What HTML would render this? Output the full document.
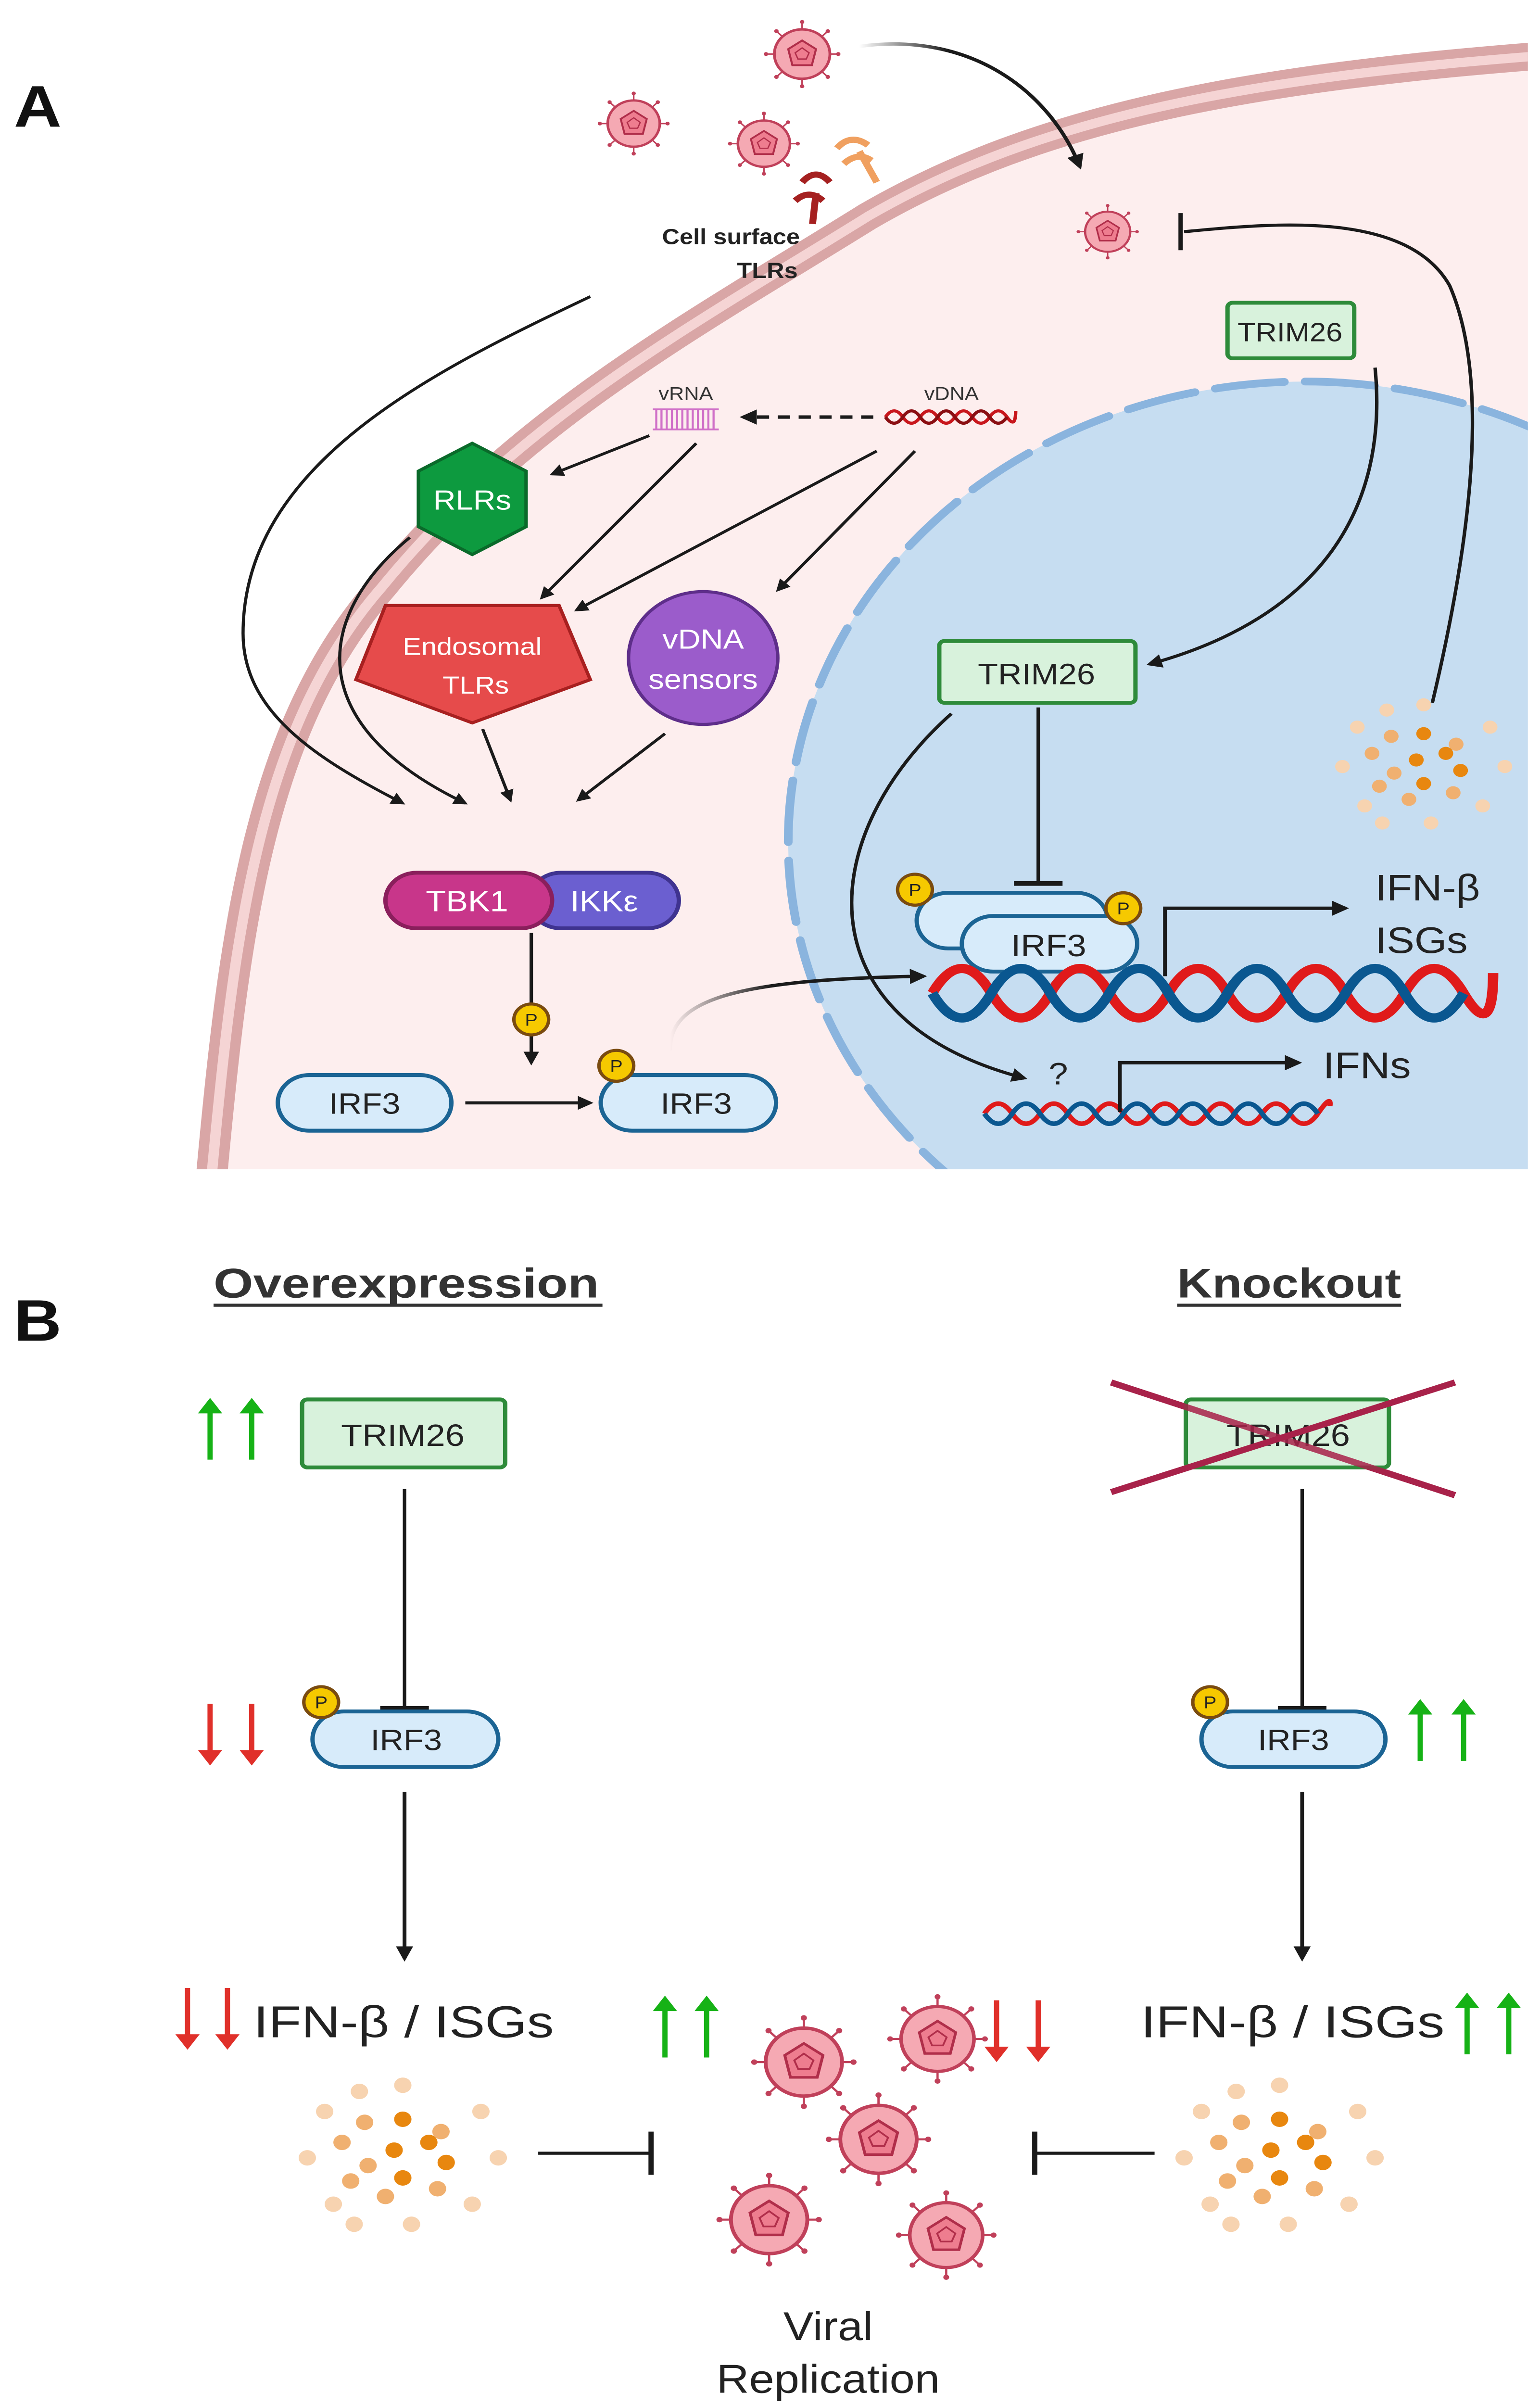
<!DOCTYPE html>
<html><head><meta charset="utf-8"><style>
html,body{margin:0;padding:0;background:#fff;width:100vw;height:100vh;overflow:hidden}
svg{display:block;position:absolute;left:0;top:0;width:100vw;height:100vh}
text{font-family:"Liberation Sans",sans-serif}
</style></head><body>
<svg viewBox="0 0 887 1557" preserveAspectRatio="none" xmlns="http://www.w3.org/2000/svg">
<defs>
<marker id="ah" viewBox="0 0 10 10" refX="8" refY="5" markerWidth="4.5" markerHeight="4.5" orient="auto"><path d="M0,0 L10,5 L0,10 z" fill="#1a1a1a"/></marker>
<linearGradient id="g1" x1="0" y1="0" x2="1" y2="0"><stop offset="0" stop-color="#1a1a1a" stop-opacity="0"/><stop offset="0.4" stop-color="#1a1a1a"/></linearGradient>
<g id="vir">
 <g stroke="#c0405a" stroke-width="1.2">
  <line x1="0" y1="-20" x2="0" y2="-26"/><line x1="0" y1="20" x2="0" y2="26"/><line x1="-20" y1="0" x2="-26" y2="0"/><line x1="20" y1="0" x2="26" y2="0"/>
  <line x1="14" y1="14" x2="18.5" y2="18.5"/><line x1="-14" y1="14" x2="-18.5" y2="18.5"/><line x1="14" y1="-14" x2="18.5" y2="-18.5"/><line x1="-14" y1="-14" x2="-18.5" y2="-18.5"/>
 </g>
 <g fill="#c0405a"><circle cx="0" cy="-26" r="1.6"/><circle cx="0" cy="26" r="1.6"/><circle cx="-26" cy="0" r="1.6"/><circle cx="26" cy="0" r="1.6"/><circle cx="18.5" cy="18.5" r="1.6"/><circle cx="-18.5" cy="18.5" r="1.6"/><circle cx="18.5" cy="-18.5" r="1.6"/><circle cx="-18.5" cy="-18.5" r="1.6"/></g>
 <circle r="20" fill="#f5a9b3" stroke="#c0405a" stroke-width="2"/>
 <polygon points="0,-11 10,-4 7,9 -7,9 -10,-4" fill="#ee7d8f" stroke="#b02e4a" stroke-width="1.5"/>
 <polygon points="0,-5 5,-1 3,4 -3,4 -5,-1" fill="none" stroke="#b02e4a" stroke-width="1"/>
</g>
<g id="upg"><line x1="0" y1="40" x2="0" y2="8" stroke="#16b216" stroke-width="3"/><path d="M-7,10 L0,0 L7,10z" fill="#16b216"/></g>
<g id="dnr"><line x1="0" y1="0" x2="0" y2="32" stroke="#e0302a" stroke-width="3"/><path d="M-7,30 L0,40 L7,30z" fill="#e0302a"/></g>
<g id="dots">
 <g fill="#f7d3b0"><circle cx="-45" cy="-25" r="5"/><circle cx="45" cy="-25" r="5"/><circle cx="-55" cy="5" r="5"/><circle cx="55" cy="5" r="5"/><circle cx="-40" cy="35" r="5"/><circle cx="40" cy="35" r="5"/><circle cx="0" cy="-42" r="5"/><circle cx="5" cy="48" r="5"/><circle cx="-28" cy="48" r="5"/><circle cx="-25" cy="-38" r="5"/></g>
 <g fill="#f0b070"><circle cx="-22" cy="-18" r="5"/><circle cx="-35" cy="-5" r="5"/><circle cx="-20" cy="10" r="5"/><circle cx="-10" cy="30" r="5"/><circle cx="22" cy="-12" r="5"/><circle cx="20" cy="25" r="5"/><circle cx="-30" cy="20" r="5"/></g>
 <g fill="#e8870f"><circle cx="0" cy="-20" r="5"/><circle cx="-5" cy="0" r="5"/><circle cx="15" cy="-5" r="5"/><circle cx="0" cy="18" r="5"/><circle cx="25" cy="8" r="5"/></g>
</g>
<g id="pc"><circle r="10" fill="#f6c900" stroke="#7a4b10" stroke-width="2"/><text y="4" text-anchor="middle" font-size="11" fill="#222">P</text></g>
</defs>

<!-- Panel A -->
<clipPath id="pa"><rect x="0" y="0" width="880" height="757"/></clipPath>
<g clip-path="url(#pa)">
 <path d="M122,760 C135,600 150,470 220,380 C300,270 400,210 500,140 C600,75 720,50 900,35 L900,760 Z" fill="#fdeeee"/>
 <path d="M122,760 C135,600 150,470 220,380 C300,270 400,210 500,140 C600,75 720,50 900,35" fill="none" stroke="#d9a6a6" stroke-width="18"/>
 <path d="M122,760 C135,600 150,470 220,380 C300,270 400,210 500,140 C600,75 720,50 900,35" fill="none" stroke="#f5d4d4" stroke-width="6"/>
 <circle cx="752" cy="545" r="298" fill="#c6ddf1"/>
 <circle cx="752" cy="545" r="298" fill="none" stroke="#8ab4de" stroke-width="5" stroke-dasharray="40,12" stroke-linecap="round"/>
</g>
<text x="8" y="82" font-size="38" font-weight="bold" fill="#111">A</text>

<use href="#vir" transform="translate(462,35) scale(0.8)"/>
<use href="#vir" transform="translate(365,80) scale(0.75)"/>
<use href="#vir" transform="translate(440,93) scale(0.75)"/>
<use href="#vir" transform="translate(638,150) scale(0.65)"/>
<path d="M495,30 C560,20 605,60 622,108" fill="none" stroke="url(#g1)" stroke-width="2.2" marker-end="url(#ah)"/>
<path d="M825,455 C845,360 860,250 835,185 C810,135 730,145 682,150" fill="none" stroke="#1a1a1a" stroke-width="2"/>
<line x1="680" y1="138" x2="680" y2="162" stroke="#1a1a1a" stroke-width="2.5"/>

<!-- TLRs -->
<g stroke="#a52020" stroke-width="4" fill="none"><path d="M468,145 L470,125"/><path d="M462,118 q8,-10 16,0"/><path d="M458,130 q8,-8 16,0"/></g>
<g stroke="#f0a060" stroke-width="4" fill="none"><path d="M505,118 L495,98"/><path d="M482,96 q8,-10 18,-2"/><path d="M486,106 q8,-8 16,-2"/></g>
<text x="421" y="158" font-size="14" font-weight="bold" text-anchor="middle" fill="#222">Cell surface</text>
<text x="442" y="180" font-size="14" font-weight="bold" text-anchor="middle" fill="#222">TLRs</text>
<path d="M340,192 C250,240 140,300 140,410 C140,460 180,490 232,520" fill="none" stroke="#1a1a1a" stroke-width="1.8" marker-end="url(#ah)"/>

<rect x="707" y="196" width="73" height="36" rx="3" fill="#d8f2dc" stroke="#2e8b3a" stroke-width="2.5"/>
<text x="743" y="221" font-size="17" text-anchor="middle" fill="#222">TRIM26</text>

<text x="395" y="259" font-size="12" text-anchor="middle" fill="#333">vRNA</text>
<g stroke="#d070c8" stroke-width="1.2"><line x1="376" y1="265" x2="414" y2="265"/><line x1="376" y1="278" x2="414" y2="278"/>
<path d="M378,265v13M381,265v13M384,265v13M387,265v13M390,265v13M393,265v13M396,265v13M399,265v13M402,265v13M405,265v13M408,265v13M411,265v13"/></g>
<text x="548" y="259" font-size="12" text-anchor="middle" fill="#333">vDNA</text>
<path d="M510,270 Q515,262 520,270 T530,270 T540,270 T550,270 T560,270 T570,270 T580,270 T585,266" fill="none" stroke="#c8161c" stroke-width="2"/>
<path d="M510,270 Q515,278 520,270 T530,270 T540,270 T550,270 T560,270 T570,270 T580,270" fill="none" stroke="#8a0e12" stroke-width="2"/>
<line x1="503" y1="270" x2="428" y2="270" stroke="#1a1a1a" stroke-width="2.2" stroke-dasharray="7,5" marker-end="url(#ah)"/>

<polygon points="272,287 303,305 303,341 272,359 241,341 241,305" fill="#0d9a3f" stroke="#0a6a2a" stroke-width="2"/>
<text x="272" y="330" font-size="18" text-anchor="middle" fill="#fff">RLRs</text>
<polygon points="222,392 322,392 340,440 272,468 205,440" fill="#e64b4b" stroke="#a82020" stroke-width="2"/>
<text x="272" y="424" font-size="16" text-anchor="middle" fill="#fff">Endosomal</text>
<text x="274" y="449" font-size="16" text-anchor="middle" fill="#fff">TLRs</text>
<circle cx="405" cy="426" r="43" fill="#9b5ccb" stroke="#5e2e8a" stroke-width="2"/>
<text x="405" y="420" font-size="18" text-anchor="middle" fill="#fff">vDNA</text>
<text x="405" y="446" font-size="18" text-anchor="middle" fill="#fff">sensors</text>

<g stroke="#1a1a1a" stroke-width="1.8" fill="none" marker-end="url(#ah)">
<line x1="374" y1="282" x2="318" y2="307"/>
<line x1="401" y1="287" x2="312" y2="387"/>
<line x1="505" y1="292" x2="332" y2="395"/>
<line x1="527" y1="292" x2="448" y2="382"/>
<path d="M236,348 C180,400 175,470 268,520"/>
<line x1="278" y1="472" x2="294" y2="518"/>
<line x1="383" y1="475" x2="333" y2="518"/>
</g>

<rect x="305" y="565" width="86" height="36" rx="18" fill="#6b5fd0" stroke="#3f3390" stroke-width="2.5"/>
<rect x="222" y="565" width="96" height="36" rx="18" fill="#c8368a" stroke="#8a1f5c" stroke-width="2.5"/>
<text x="269" y="590" font-size="19" text-anchor="middle" fill="#fff">TBK1</text>
<text x="348" y="590" font-size="19" text-anchor="middle" fill="#fff">IKKε</text>
<line x1="306" y1="604" x2="306" y2="688" stroke="#1a1a1a" stroke-width="2" marker-end="url(#ah)"/>
<use href="#pc" transform="translate(306,660)"/>
<rect x="160" y="696" width="100" height="36" rx="18" fill="#d7ebfa" stroke="#1b6494" stroke-width="2.5"/>
<text x="210" y="721" font-size="19" text-anchor="middle" fill="#222">IRF3</text>
<line x1="268" y1="714" x2="340" y2="714" stroke="#1a1a1a" stroke-width="2" marker-end="url(#ah)"/>
<rect x="346" y="696" width="101" height="36" rx="18" fill="#d7ebfa" stroke="#1b6494" stroke-width="2.5"/>
<text x="401" y="721" font-size="19" text-anchor="middle" fill="#222">IRF3</text>
<use href="#pc" transform="translate(355,690)"/>
<path d="M386,680 C385,645 430,634 532,632" fill="none" stroke="url(#g1)" stroke-width="2.2" marker-end="url(#ah)"/>

<!-- nucleus -->
<rect x="541" y="415" width="113" height="40" rx="3" fill="#d8f2dc" stroke="#2e8b3a" stroke-width="2.5"/>
<text x="597" y="443" font-size="19" text-anchor="middle" fill="#222">TRIM26</text>
<path d="M792,238 C800,330 760,400 662,430" fill="none" stroke="#1a1a1a" stroke-width="2" marker-end="url(#ah)"/>
<line x1="598" y1="458" x2="598" y2="571" stroke="#1a1a1a" stroke-width="2"/>
<line x1="584" y1="572" x2="612" y2="572" stroke="#1a1a1a" stroke-width="3"/>
<rect x="528" y="578" width="110" height="36" rx="18" fill="#d7ebfa" stroke="#1b6494" stroke-width="2.5"/>
<rect x="554" y="593" width="101" height="36" rx="18" fill="#d7ebfa" stroke="#1b6494" stroke-width="2.5"/>
<text x="604" y="619" font-size="20" text-anchor="middle" fill="#222">IRF3</text>
<use href="#pc" transform="translate(527,576)"/>
<use href="#pc" transform="translate(647,588)"/>
<path d="M548,462 C470,540 460,660 590,698" fill="none" stroke="#1a1a1a" stroke-width="2" marker-end="url(#ah)"/>
<path d="M537,643 Q554,611 571,643 T605,643 T639,643 T673,643 T707,643 T741,643 T775,643 T809,643 T843,643 T860,630" fill="none" stroke="#e01a1a" stroke-width="6"/>
<path d="M537,643 Q554,675 571,643 T605,643 T639,643 T673,643 T707,643 T741,643 T775,643 T809,643 T843,643" fill="none" stroke="#0a5790" stroke-width="6"/>
<polyline points="671,632 671,588 775,588" fill="none" stroke="#1a1a1a" stroke-width="2.2" marker-end="url(#ah)"/>
<text x="792" y="583" font-size="24" fill="#222">IFN-β</text>
<text x="792" y="617" font-size="24" fill="#222">ISGs</text>
<use href="#dots" transform="translate(820,492) scale(0.85)"/>
<text x="604" y="702" font-size="20" fill="#222">?</text>
<path d="M567,721 Q575,708 583,721 T599,721 T615,721 T631,721 T647,721 T663,721 T679,721 T695,721 T711,721 T727,721 T743,721 T759,721 T766,716" fill="none" stroke="#e01a1a" stroke-width="3"/>
<path d="M567,721 Q575,734 583,721 T599,721 T615,721 T631,721 T647,721 T663,721 T679,721 T695,721 T711,721 T727,721 T743,721 T759,721" fill="none" stroke="#0a5790" stroke-width="3"/>
<polyline points="645,720 645,688 748,688" fill="none" stroke="#1a1a1a" stroke-width="2.2" marker-end="url(#ah)"/>
<text x="762" y="698" font-size="24" fill="#222">IFNs</text>

<!-- Panel B -->
<text x="8" y="868" font-size="38" font-weight="bold" fill="#111">B</text>
<text x="123" y="840" font-size="27" font-weight="bold" fill="#333" textLength="222" lengthAdjust="spacingAndGlyphs">Overexpression</text>
<line x1="123" y1="845" x2="347" y2="845" stroke="#333" stroke-width="2"/>
<text x="678" y="840" font-size="27" font-weight="bold" fill="#333" textLength="129" lengthAdjust="spacingAndGlyphs">Knockout</text>
<line x1="678" y1="845" x2="807" y2="845" stroke="#333" stroke-width="2"/>

<use href="#upg" transform="translate(121,905)"/><use href="#upg" transform="translate(145,905)"/>
<rect x="174" y="906" width="117" height="44" rx="3" fill="#d8f2dc" stroke="#2e8b3a" stroke-width="2.5"/>
<text x="232" y="936" font-size="20" text-anchor="middle" fill="#222">TRIM26</text>
<line x1="233" y1="964" x2="233" y2="1105" stroke="#1a1a1a" stroke-width="2"/>
<line x1="219" y1="1106" x2="247" y2="1106" stroke="#1a1a1a" stroke-width="3"/>
<use href="#dnr" transform="translate(121,1103)"/><use href="#dnr" transform="translate(145,1103)"/>
<rect x="180" y="1108" width="107" height="36" rx="18" fill="#d7ebfa" stroke="#1b6494" stroke-width="2.5"/>
<text x="234" y="1133" font-size="19" text-anchor="middle" fill="#222">IRF3</text>
<use href="#pc" transform="translate(185,1102)"/>
<line x1="233" y1="1160" x2="233" y2="1268" stroke="#1a1a1a" stroke-width="2.2" marker-end="url(#ah)"/>
<use href="#dnr" transform="translate(108,1287)"/><use href="#dnr" transform="translate(131,1287)"/>
<text x="146" y="1319" font-size="29" fill="#222" textLength="173" lengthAdjust="spacingAndGlyphs">IFN-β / ISGs</text>
<use href="#dots" transform="translate(232,1392)"/>
<line x1="310" y1="1394" x2="374" y2="1394" stroke="#1a1a1a" stroke-width="2"/>
<line x1="375" y1="1380" x2="375" y2="1408" stroke="#1a1a1a" stroke-width="3"/>

<line x1="640" y1="895" x2="838" y2="968" stroke="#a8224a" stroke-width="4"/>
<rect x="683" y="906" width="117" height="44" rx="3" fill="#d8f2dc" stroke="#2e8b3a" stroke-width="2.5"/>
<text x="742" y="936" font-size="20" text-anchor="middle" fill="#222">TRIM26</text>
<line x1="640" y1="966" x2="838" y2="895" stroke="#a8224a" stroke-width="4"/>
<line x1="640" y1="895" x2="838" y2="968" stroke="#a8224a" stroke-width="4" opacity="0.85"/>
<line x1="750" y1="964" x2="750" y2="1105" stroke="#1a1a1a" stroke-width="2"/>
<line x1="736" y1="1106" x2="764" y2="1106" stroke="#1a1a1a" stroke-width="3"/>
<rect x="692" y="1108" width="106" height="36" rx="18" fill="#d7ebfa" stroke="#1b6494" stroke-width="2.5"/>
<text x="745" y="1133" font-size="19" text-anchor="middle" fill="#222">IRF3</text>
<use href="#pc" transform="translate(697,1102)"/>
<use href="#upg" transform="translate(818,1100)"/><use href="#upg" transform="translate(843,1100)"/>
<line x1="750" y1="1160" x2="750" y2="1268" stroke="#1a1a1a" stroke-width="2.2" marker-end="url(#ah)"/>
<text x="657" y="1319" font-size="29" fill="#222" textLength="175" lengthAdjust="spacingAndGlyphs">IFN-β / ISGs</text>
<use href="#upg" transform="translate(845,1290)"/><use href="#upg" transform="translate(869,1290)"/>
<use href="#dots" transform="translate(737,1392)"/>
<line x1="665" y1="1394" x2="597" y2="1394" stroke="#1a1a1a" stroke-width="2"/>
<line x1="596" y1="1380" x2="596" y2="1408" stroke="#1a1a1a" stroke-width="3"/>

<use href="#upg" transform="translate(383,1292)"/><use href="#upg" transform="translate(407,1292)"/>
<use href="#dnr" transform="translate(574,1295)"/><use href="#dnr" transform="translate(598,1295)"/>
<use href="#vir" transform="translate(463,1335) scale(1.1)"/>
<use href="#vir" transform="translate(540,1320) scale(1.05)"/>
<use href="#vir" transform="translate(506,1385) scale(1.1)"/>
<use href="#vir" transform="translate(443,1437) scale(1.1)"/>
<use href="#vir" transform="translate(545,1447) scale(1.05)"/>
<text x="477" y="1515" font-size="26" text-anchor="middle" fill="#222">Viral</text>
<text x="477" y="1549" font-size="26" text-anchor="middle" fill="#222">Replication</text>
</svg>
</body></html>
